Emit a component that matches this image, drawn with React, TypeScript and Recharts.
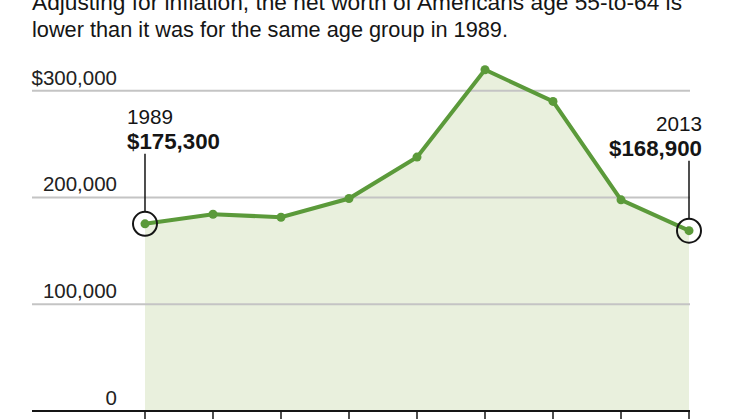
import React from "react";
import { ComposedChart, Area, Line, XAxis, YAxis, ReferenceLine } from "recharts";

const years = [1989, 1992, 1995, 1998, 2001, 2004, 2007, 2010, 2013];
const netWorth = [175300, 184300, 181500, 199000, 237800, 319600, 290000, 197800, 168900];
const yTicks = [0, 100000, 200000, 300000];
const yTickLabels = ["0", "100,000", "200,000", "$300,000"];
const titleLines = [
  "Adjusting for inflation, the net worth of Americans age 55-to-64 is",
  "lower than it was for the same age group in 1989.",
];

const data = years.map((year, i) => ({ year, value: netWorth[i] }));

const GREEN = "#5b9a3a";
const FILL = "#e9f0dd";
const INK = "#151515";
const FONT = "'Liberation Sans', Arial, sans-serif";

const fmtMoney = (v: number) => "$" + v.toLocaleString("en-US");

const GridLabel = (props: any) => {
  const { viewBox, text } = props;
  const y = viewBox ? viewBox.y : 0;
  return (
    <text x={117} y={y - 6} textAnchor="end" fontFamily={FONT} fontSize={20.5} fill="#222">
      {text}
    </text>
  );
};

const Dot = (props: any) => {
  const { cx, cy, index } = props;
  const last = data.length - 1;
  const base = <circle cx={cx} cy={cy} r={4.5} fill={GREEN} />;
  if (index !== 0 && index !== last) {
    return <g key={`d${index}`}>{base}</g>;
  }
  const d = data[index];
  const isFirst = index === 0;
  const tx = isFirst ? cx - 18 : cx + 13;
  const anchor = isFirst ? "start" : "end";
  return (
    <g key={`d${index}`}>
      {base}
      <circle cx={cx} cy={cy} r={12} fill="none" stroke={INK} strokeWidth={2} />
      <line x1={cx} x2={cx} y1={cy - 12} y2={cy - 70} stroke={INK} strokeWidth={1.5} />
      <text x={tx} y={cy - 100} textAnchor={anchor} fontFamily={FONT} fontSize={20.7} fill={INK}>
        {String(d.year)}
      </text>
      <text
        x={tx}
        y={cy - 75}
        textAnchor={anchor}
        fontFamily={FONT}
        fontSize={22.3}
        fontWeight="bold"
        fill={INK}
      >
        {fmtMoney(d.value)}
      </text>
    </g>
  );
};

export default function App() {
  return (
    <div style={{ position: "absolute", left: 0, top: 0, width: 742, height: 420, background: "#fff", overflow: "hidden" }}>
      <ComposedChart
        width={742}
        height={420}
        data={data}
        margin={{ top: 48, right: 52, left: 32, bottom: 0 }}
      >
        <XAxis
          dataKey="year"
          type="number"
          domain={[1984.015, 2013.044]}
          ticks={years}
          interval={0}
          tickFormatter={() => ""}
          tickSize={8}
          height={9}
          axisLine={{ stroke: INK, strokeWidth: 2 }}
          tickLine={{ stroke: INK, strokeWidth: 1.5 }}
        />
        <YAxis hide domain={[0, 340000]} />
        <Area
          dataKey="value"
          type="linear"
          stroke="none"
          fill={FILL}
          fillOpacity={1}
          dot={false}
          activeDot={false}
          isAnimationActive={false}
        />
        {yTicks.map((v, i) => (
          <ReferenceLine
            key={v}
            y={v}
            stroke={v === 0 ? "none" : "#c4c4c4"}
            strokeWidth={2}
            label={<GridLabel text={yTickLabels[i]} />}
          />
        ))}
        <Line
          dataKey="value"
          type="linear"
          stroke={GREEN}
          strokeWidth={4}
          dot={Dot}
          activeDot={false}
          isAnimationActive={false}
        />
      </ComposedChart>
      <svg
        width={742}
        height={60}
        style={{ position: "absolute", left: 0, top: 0, pointerEvents: "none" }}
      >
        <text x={32} y={9.5} fontFamily={FONT} fontSize={21.7} fill={INK} textLength={650} lengthAdjust="spacingAndGlyphs">
          {titleLines[0]}
        </text>
        <text x={32} y={36.7} fontFamily={FONT} fontSize={21.7} fill={INK} textLength={476} lengthAdjust="spacingAndGlyphs">
          {titleLines[1]}
        </text>
      </svg>
    </div>
  );
}
